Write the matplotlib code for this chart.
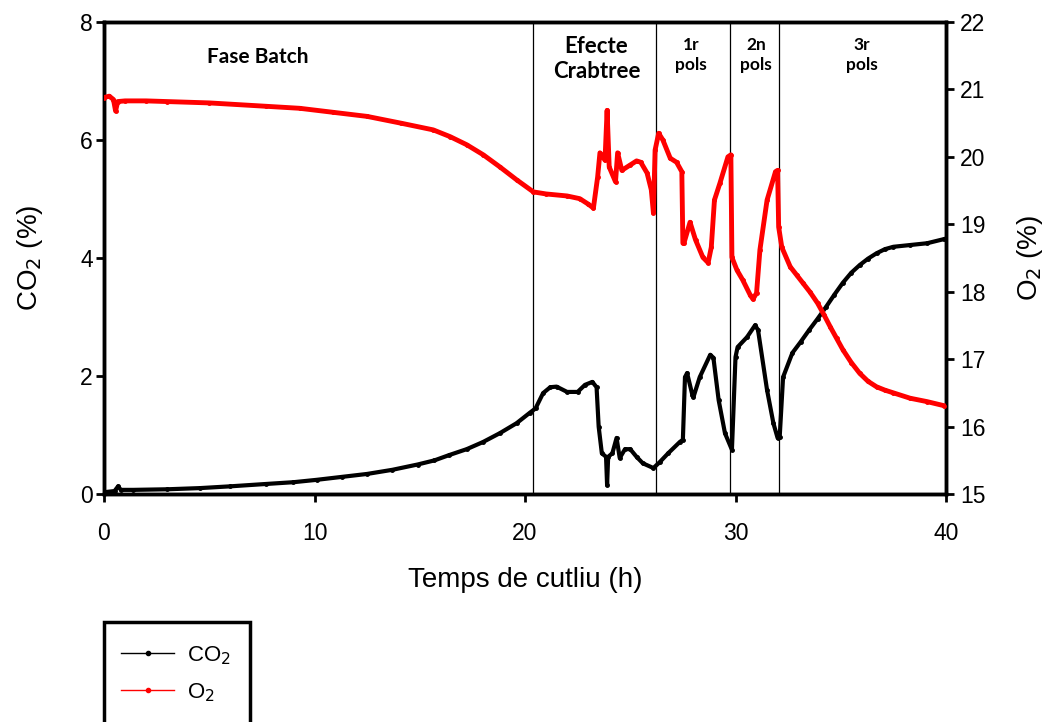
import matplotlib
matplotlib.use("Agg")
import matplotlib.pyplot as plt
from matplotlib.lines import Line2D
from matplotlib.patches import Rectangle

# CO2 in exhaust gas (%), left axis
time_co2 = [0.0, 0.5, 0.67, 0.8, 1.4, 3.0, 4.56, 6.0, 7.7, 9.0, 10.1, 11.3, 12.5, 13.7,
            14.9, 15.7, 16.4, 17.23, 18.0, 18.8, 19.6, 20.24,
            20.5, 20.86, 21.2, 21.5, 22.0, 22.5, 22.85, 23.2, 23.4, 23.5, 23.65, 23.85,
            23.9, 23.95, 24.15, 24.35, 24.5, 24.75, 25.0, 25.3, 25.6, 26.1, 26.4, 26.8,
            27.35, 27.5, 27.6, 27.7, 27.95, 28.0, 28.3, 28.8, 28.95, 29.2, 29.5, 29.83,
            30.0, 30.1, 30.55, 30.93, 31.07, 31.5, 31.8, 32.0, 32.1, 32.26, 32.7, 33.1,
            33.5, 33.9, 34.3, 34.7, 35.1, 35.5, 35.9, 36.3, 36.7, 37.1, 37.5, 38.3, 39.1,
            39.9]
co2 = [0.03, 0.05, 0.13, 0.07, 0.07, 0.08, 0.10, 0.13, 0.17, 0.20, 0.24, 0.29, 0.34, 0.41,
       0.50, 0.57, 0.66, 0.76, 0.88, 1.03, 1.20, 1.38,
       1.45, 1.71, 1.81, 1.82, 1.73, 1.73, 1.85, 1.90, 1.81, 1.14, 0.69, 0.63,
       0.15, 0.63, 0.69, 0.95, 0.61, 0.76, 0.76, 0.63, 0.52, 0.44, 0.54, 0.69,
       0.88, 0.92, 1.98, 2.05, 1.68, 1.64, 1.98, 2.36, 2.31, 1.59, 1.03, 0.75,
       2.32, 2.49, 2.66, 2.86, 2.78, 1.76, 1.20, 0.95, 0.97, 1.98, 2.39, 2.58,
       2.78, 2.97, 3.17, 3.38, 3.58, 3.75, 3.88, 3.99, 4.08, 4.15, 4.19, 4.22, 4.25,
       4.32]

# O2 in exhaust gas (%), right axis
time_o2 = [0.0, 0.25, 0.45, 0.55, 0.65, 1.0, 2.0, 3.0, 5.0, 7.7, 9.3, 10.9, 12.5, 14.1,
           15.64, 16.44, 17.23, 18.02, 18.81, 19.6, 20.4, 21.0, 22.0, 22.6, 23.0, 23.25,
           23.45, 23.56, 23.8,
           23.9, 24.0, 24.3, 24.4, 24.6, 25.0, 25.3, 25.5, 25.8, 26.0, 26.1, 26.18,
           26.35, 26.55, 26.9, 27.2, 27.45, 27.5, 27.55, 27.84, 28.1, 28.45, 28.7,
           28.85, 29.0, 29.26, 29.64, 29.78, 29.83, 30.07, 30.35, 30.7, 30.83, 31.0,
           31.16, 31.5, 31.9, 32.0, 32.05, 32.2, 32.6, 32.9, 33.2, 33.55, 33.9, 34.2, 34.5,
           34.8, 35.1, 35.5, 35.9, 36.3, 36.7, 37.1, 37.5, 38.3, 39.1, 39.9]
o2 = [20.88, 20.90, 20.85, 20.68, 20.82, 20.83, 20.83, 20.82, 20.80, 20.75, 20.72, 20.66,
      20.60, 20.50, 20.40, 20.30, 20.18, 20.03, 19.85, 19.66, 19.48, 19.45, 19.42, 19.38,
      19.30, 19.24, 19.70, 20.06, 19.95,
      20.69, 19.85, 19.63, 20.06, 19.80, 19.88, 19.94, 19.92, 19.76, 19.51,
      19.17, 20.10, 20.35, 20.25, 19.98, 19.92, 19.78, 18.72, 18.72, 19.03, 18.77, 18.51,
      18.43, 18.66, 19.36, 19.61, 20.00, 20.03, 18.51, 18.32, 18.17, 17.95, 17.89, 17.98,
      18.62, 19.36, 19.78, 19.80, 18.96, 18.66, 18.37, 18.25, 18.13, 17.99, 17.83, 17.66,
      17.48, 17.31, 17.14, 16.95, 16.79, 16.67, 16.59, 16.54, 16.50, 16.42, 16.37, 16.31]

phase_bounds = [20.4, 26.2, 29.75, 32.05]
phase_labels = ["Fase Batch", "Efecte\nCrabtree", "1r\npols", "2n\npols", "3r\npols"]
phase_label_x = [7.3, 23.4, 27.9, 30.97, 36.0]

plt.rcParams["font.family"] = ["Liberation Sans", "DejaVu Sans"]

fig = plt.figure(figsize=(10.47, 7.22), dpi=100)
ax = fig.add_axes([104 / 1047, 1 - 494 / 722, (946 - 104) / 1047, (494 - 22) / 722])
ax2 = ax.twinx()

ax.plot(time_co2, co2, color="black", lw=3.0, marker="o", ms=2.5, zorder=3)
ax2.plot(time_o2, o2, color="#ff0000", lw=3.5, marker="o", ms=2.5, zorder=3)

for xb in phase_bounds:
    ax.axvline(xb, color="black", lw=0.9, zorder=2)

ax.set_xlim(0, 40)
ax.set_ylim(0, 8)
ax2.set_ylim(15, 22)
ax.set_xticks([0, 10, 20, 30, 40])
ax.set_yticks([0, 2, 4, 6, 8])
ax2.set_yticks(range(15, 23))

for a in (ax, ax2):
    for s in a.spines.values():
        s.set_linewidth(2.5)
    a.tick_params(direction="out", length=6, width=2, labelsize=16.5)
ax.tick_params(axis="x", pad=14)
ax.tick_params(axis="y", pad=2)
ax2.tick_params(axis="y", pad=4)

ax.set_xlabel("Temps de cutliu (h)", fontsize=20, labelpad=16)
ax.set_ylabel("CO$_2$ (%)", fontsize=20, labelpad=25)
ax2.set_ylabel("O$_2$ (%)", fontsize=20, labelpad=21, rotation=90)

bold_font = ["Lato", "DejaVu Sans"]
ax.text(phase_label_x[0], 7.41, phase_labels[0], ha="center", va="center",
        fontsize=15, fontweight="bold", family=bold_font)
ax.text(phase_label_x[1], 7.37, phase_labels[1], ha="center", va="center",
        fontsize=16, fontweight="bold", family=bold_font, linespacing=1.25)
for lx, lab in zip(phase_label_x[2:], phase_labels[2:]):
    ax.text(lx, 7.44, lab, ha="center", va="center", fontsize=12.5,
            fontweight="bold", family=bold_font, linespacing=1.3)

# legend box below the plot
fig.patches.append(Rectangle((104 / 1047, -0.05), 146 / 1047, 1 - 622 / 722 + 0.05,
                             transform=fig.transFigure, fill=False,
                             edgecolor="black", lw=2.5))
handles = [Line2D([], [], color="black", lw=1, marker="o", ms=3),
           Line2D([], [], color="#ff0000", lw=1, marker="o", ms=3)]
fig.legend(handles, ["CO$_2$", "O$_2$"], loc="upper left",
           bbox_to_anchor=(121 / 1047, 1 - 644 / 722), frameon=False,
           fontsize=16, handlelength=2.4, handletextpad=0.55, numpoints=1,
           labelspacing=0.65, borderpad=0, borderaxespad=0)

fig.savefig("out.png", dpi=100)
